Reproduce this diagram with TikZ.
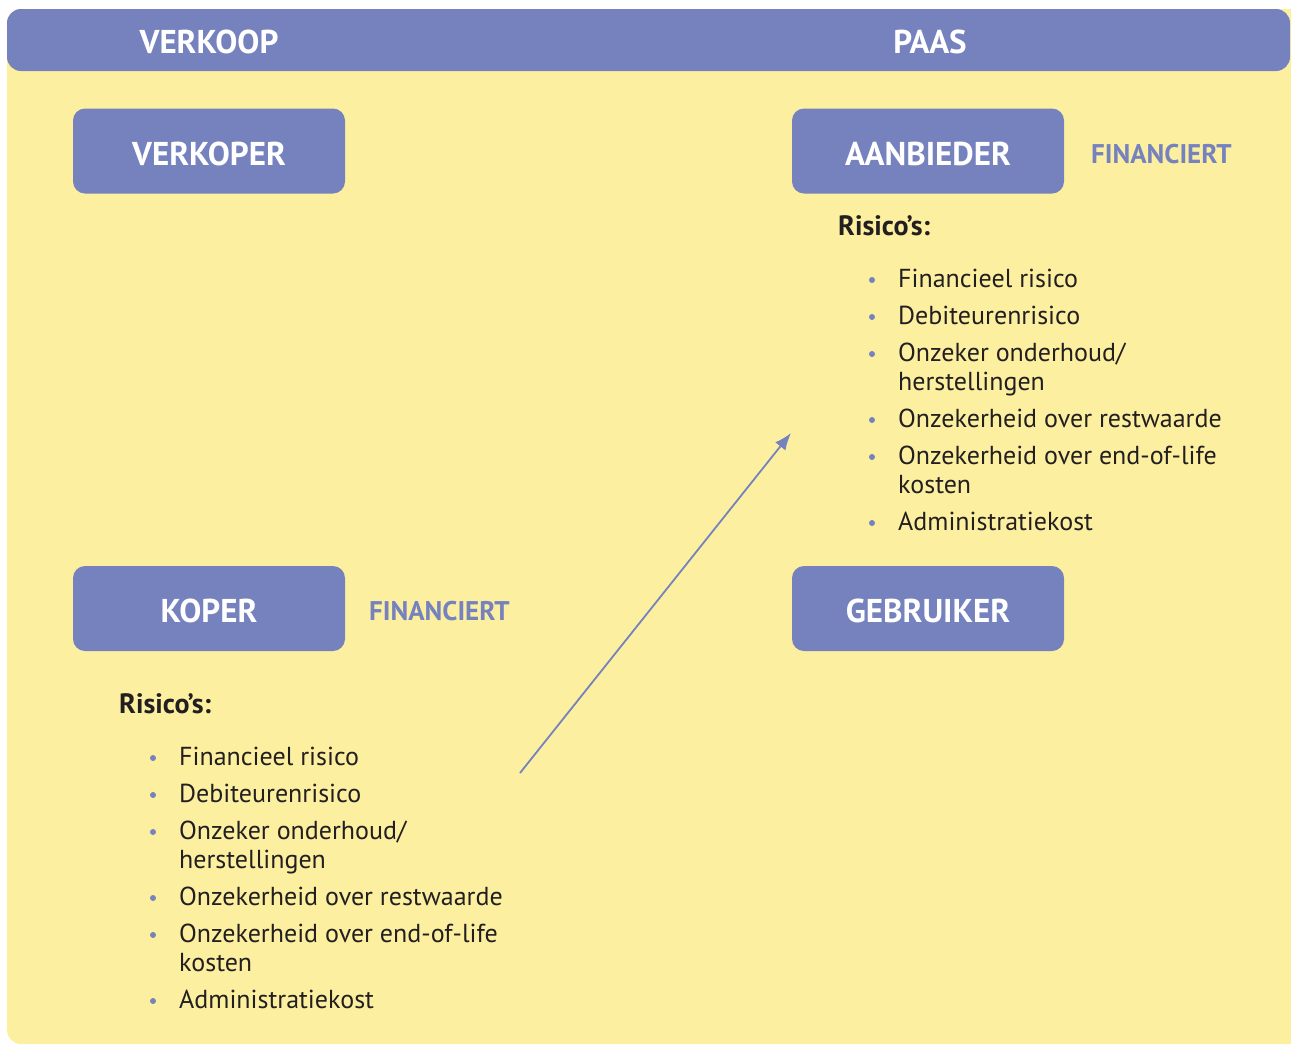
\documentclass[tikz,border=0pt]{standalone}
\usepackage{fontspec}
\setmainfont{PT Sans}
\usetikzlibrary{arrows.meta}
\definecolor{pblue}{HTML}{7682BE}
\definecolor{pyellow}{HTML}{FCF0A0}
\definecolor{ptext}{HTML}{231F20}
\tikzset{
  hdrtext/.style={text=white, font=\fontsize{33}{38}\selectfont\bfseries, anchor=base, inner sep=0pt},
  rolebox/.style={fill=pblue, rounded corners=12pt, minimum width=272pt, minimum height=85pt,
    text=white, font=\fontsize{33}{38}\selectfont\bfseries, inner sep=0pt, text height=28pt, text depth=0pt},
  fin/.style={text=pblue, font=\fontsize{27}{32}\selectfont\bfseries, anchor=base west, inner sep=0pt},
  risk/.style={text=ptext, font=\fontsize{28}{32}\selectfont\bfseries, anchor=base west, inner sep=0pt},
  item/.style={text=ptext, font=\fontsize{26}{29}\selectfont, anchor=base west, inner sep=0pt, align=left},
  bdot/.style={circle, fill=pblue, minimum size=6pt, inner sep=0pt},
  flow/.style={draw=pblue, line width=1.8pt, -{Latex[length=17pt,width=13pt]}}
}
\begin{document}
\begin{tikzpicture}[x=1pt,y=-1pt]
\useasboundingbox (0,0) rectangle (1291,1045);
\begin{scope}
\clip (0,0) rectangle (1291,1045);
\fill[pyellow, rounded corners=14pt] (7,9) rectangle (1320,1044);
\end{scope}
\fill[pblue, rounded corners=14pt] (7,9) rectangle (1290,71);
\node[hdrtext] (h1) at (209,53) {VERKOOP};
\node[hdrtext] (h2) at (930,53) {PAAS};

\node[rolebox] (verkoper) at (209,151) {VERKOPER};
\node[rolebox] (aanbieder) at (928,151) {AANBIEDER};
\node[rolebox] (koper) at (209,608.5) {KOPER};
\node[rolebox] (gebruiker) at (928,608.5) {GEBRUIKER};

\node[fin] (fin1) at (1091,163) {FINANCIERT};
\node[fin] (fin2) at (369,620) {FINANCIERT};

% top list
\node[risk] (r1) at (838,235) {Risico’s:};
\node[bdot] (d11) at (872,280) {};
\node[item] (t11) at (898,287) {Financieel risico};
\node[bdot] (d12) at (872,317) {};
\node[item] (t12) at (898,324) {Debiteurenrisico};
\node[bdot] (d13) at (872,354) {};
\node[item] (t13) at (898,390) {Onzeker onderhoud/\\herstellingen};
\node[bdot] (d14) at (872,420) {};
\node[item] (t14) at (898,427) {Onzekerheid over restwaarde};
\node[bdot] (d15) at (872,457) {};
\node[item] (t15) at (898,493) {Onzekerheid over end-of-life\\kosten};
\node[bdot] (d16) at (872,523) {};
\node[item] (t16) at (898,530) {Administratiekost};

% bottom list
\node[risk] (r2) at (119,713) {Risico’s:};
\node[bdot] (d21) at (153,758) {};
\node[item] (t21) at (179,765) {Financieel risico};
\node[bdot] (d22) at (153,795) {};
\node[item] (t22) at (179,802) {Debiteurenrisico};
\node[bdot] (d23) at (153,832) {};
\node[item] (t23) at (179,868) {Onzeker onderhoud/\\herstellingen};
\node[bdot] (d24) at (153,898) {};
\node[item] (t24) at (179,905) {Onzekerheid over restwaarde};
\node[bdot] (d25) at (153,935) {};
\node[item] (t25) at (179,971) {Onzekerheid over end-of-life\\kosten};
\node[bdot] (d26) at (153,1001) {};
\node[item] (t26) at (179,1008) {Administratiekost};

\coordinate (a1) at (520,773);
\coordinate (a2) at (791,433);
\draw[flow] (a1) -- (a2);
\end{tikzpicture}
\end{document}
